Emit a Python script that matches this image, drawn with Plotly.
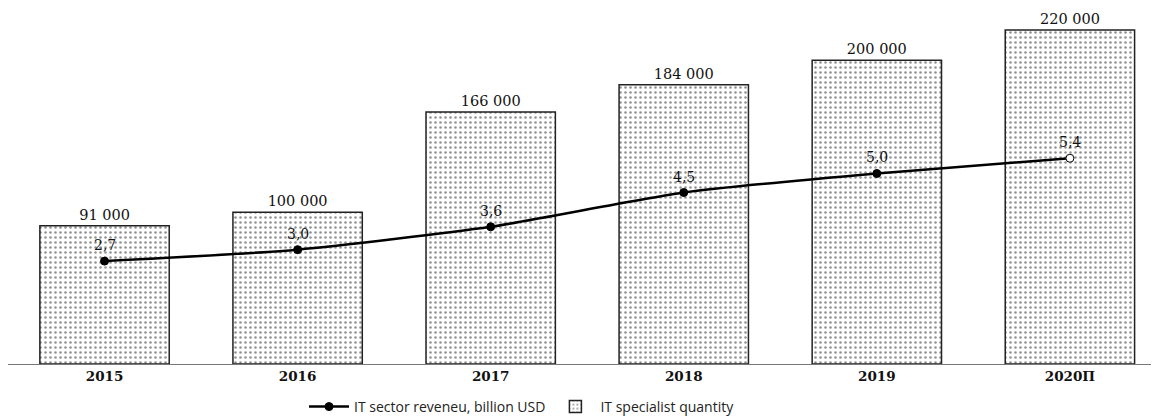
import plotly.graph_objects as go

years = ["2015", "2016", "2017", "2018", "2019", "2020П"]
specialists = [91000, 100000, 166000, 184000, 200000, 220000]
specialist_labels = ["91 000", "100 000", "166 000", "184 000", "200 000", "220 000"]
revenue = [2.7, 3.0, 3.6, 4.5, 5.0, 5.4]
revenue_labels = ["2,7", "3,0", "3,6", "4,5", "5,0", "5,4"]

serif = "DejaVu Serif, serif"

fig = go.Figure()

fig.add_trace(go.Bar(
    x=years, y=specialists,
    name="IT specialist quantity",
    text=specialist_labels, textposition="outside",
    textfont=dict(family=serif, size=14.5, color="#111"),
    cliponaxis=False,
    marker=dict(color="white", line=dict(color="#222", width=1.5),
                pattern=dict(shape=".", fgcolor="#222", bgcolor="white", size=5, solidity=0.2)),
    width=0.67,
    legendrank=2,
))

fig.add_trace(go.Scatter(
    x=years, y=revenue, yaxis="y2",
    name="IT sector reveneu, billion USD",
    mode="lines+markers",
    line=dict(color="black", width=2.5, shape="spline", smoothing=0.6),
    marker=dict(size=8, color=["black"] * 5 + ["white"], line=dict(color="black", width=1)),
    cliponaxis=False,
    legendrank=1,
))

for i, (yv, lab) in enumerate(zip(revenue, revenue_labels)):
    fig.add_annotation(x=i, y=yv, xref="x", yref="y2", text=lab, showarrow=False,
                       yanchor="middle", yshift=16,
                       font=dict(family=serif, size=14, color="#111"))

fig.update_layout(
    width=1159, height=418,
    margin=dict(l=0, r=16, t=2, b=62, autoexpand=False),
    plot_bgcolor="white", paper_bgcolor="white",
    showlegend=True,
    legend=dict(orientation="h", xref="container", x=0.4435, xanchor="center",
                yref="container", y=0.0455, yanchor="middle",
                font=dict(family="Open Sans, sans-serif", size=14, color="#222"),
                traceorder="normal", itemwidth=40),
    xaxis=dict(type="category", range=[-0.5, 5.42], showline=True, linecolor="#777", linewidth=1,
               showgrid=False, ticks="", automargin=False,
               tickfont=dict(family=serif, size=13.5, color="#111", weight="bold")),
    yaxis=dict(range=[0, 233174], visible=False, showgrid=False, automargin=False),
    yaxis2=dict(range=[0, 9.29], overlaying="y", visible=False, showgrid=False, automargin=False),
    bargap=0.33,
)

fig.write_html("out.html")
